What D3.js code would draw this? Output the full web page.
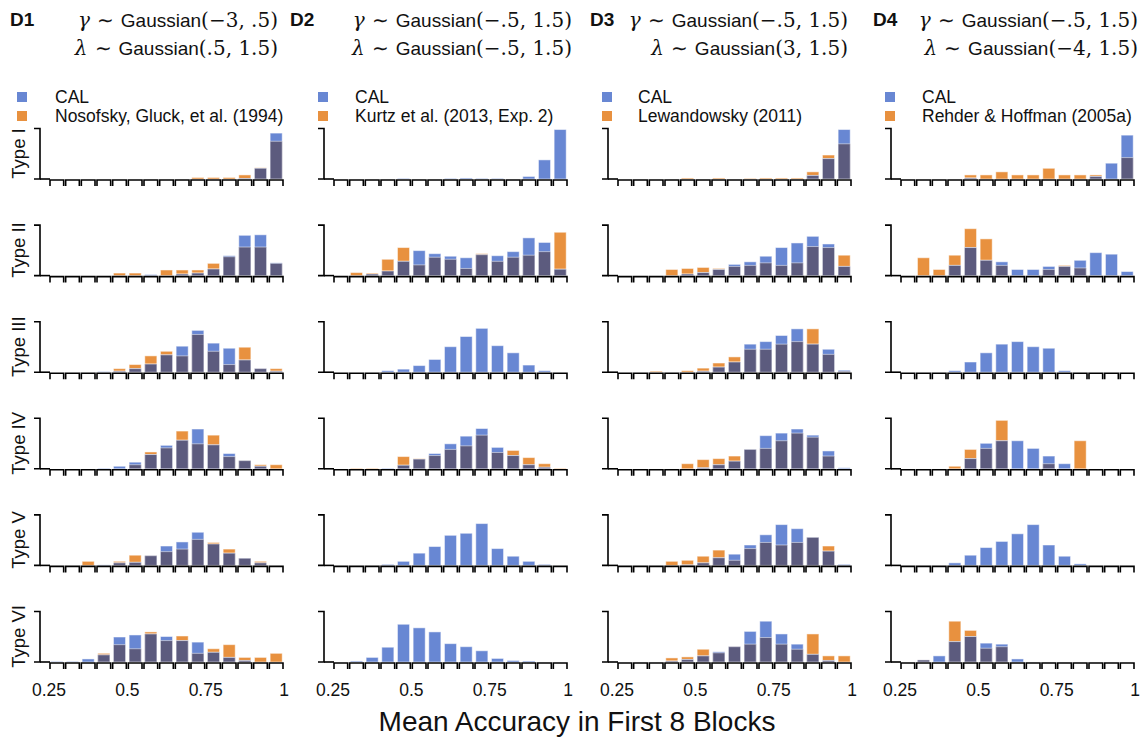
<!DOCTYPE html>
<html>
<head>
<meta charset="utf-8">
<script src="https://cdn.jsdelivr.net/npm/d3@7"></script>
<style>
  body { margin: 0; background: #fff; }
  text { font-family: "Liberation Sans", Arial, sans-serif; fill: #111; }
</style>
</head>
<body>
<script>
// bins of mean accuracy, 0.25 .. 1 in steps of .05
var binEdges = d3.range(16).map(function(i) { return +(0.25 + i * 0.05).toFixed(2); });
var xTicks = [0.25, 0.5, 0.75, 1];
var xTickLabels = ["0.25", "0.5", "0.75", "1"];
var typeLabels = ["Type I", "Type II", "Type III", "Type IV", "Type V", "Type VI"];
var datasetIds = ["D1", "D2", "D3", "D4"];
var gammaPriors = ["(\u22123, .5)", "(\u2212.5, 1.5)", "(\u2212.5, 1.5)", "(\u2212.5, 1.5)"];
var lambdaPriors = ["(.5, 1.5)", "(\u2212.5, 1.5)", "(3, 1.5)", "(\u22124, 1.5)"];
var studies = ["Nosofsky, Gluck, et al. (1994)", "Kurtz et al. (2013, Exp. 2)",
               "Lewandowsky (2011)", "Rehder & Hoffman (2005a)"];

// relative frequency per bin (1 = top tick), one row per problem type
var cal_D1 = [
  [0,0,0,0,0,0,0,0,0,0,0,0,0.01,0.21,0.9],
  [0,0,0,0,0,0,0.02,0,0.03,0.05,0.13,0.39,0.79,0.8,0.25],
  [0,0,0,0.01,0.02,0.07,0.16,0.34,0.51,0.82,0.57,0.47,0.24,0.07,0.02],
  [0,0,0,0.01,0.05,0.13,0.28,0.46,0.56,0.78,0.47,0.3,0.16,0.05,0],
  [0,0,0,0.01,0.05,0.06,0.19,0.38,0.46,0.65,0.42,0.24,0.14,0.05,0],
  [0.01,0.01,0.06,0.14,0.49,0.53,0.55,0.5,0.42,0.39,0.19,0.09,0.03,0,0]
];
var hum_D1 = [
  [0,0,0,0,0,0,0,0,0,0.03,0.03,0.03,0.08,0.22,0.74],
  [0,0,0,0,0.05,0.05,0,0.11,0.11,0.11,0.24,0.37,0.56,0.56,0.24],
  [0,0,0,0,0.07,0.15,0.32,0.41,0.32,0.74,0.41,0.15,0.49,0.07,0.07],
  [0,0,0,0,0,0.08,0.33,0.41,0.74,0.49,0.66,0.24,0.16,0.08,0.08],
  [0,0,0.08,0,0.08,0.2,0.19,0.27,0.32,0.51,0.45,0.32,0.14,0.08,0],
  [0,0,0,0.17,0.34,0.26,0.59,0.42,0.51,0.17,0.26,0.34,0.09,0.09,0.17]
];
var cal_D2 = [
  [0,0,0,0,0.01,0,0,0.01,0.02,0.01,0.01,0,0.05,0.375,0.97],
  [0,0,0.03,0.09,0.28,0.49,0.43,0.38,0.35,0.41,0.39,0.47,0.74,0.65,0.125],
  [0,0,0,0.03,0.06,0.13,0.25,0.5,0.7,0.86,0.52,0.38,0.14,0.03,0],
  [0,0,0,0.01,0.07,0.19,0.3,0.49,0.64,0.79,0.42,0.26,0.08,0.03,0],
  [0,0,0,0.02,0.08,0.24,0.37,0.59,0.63,0.82,0.33,0.18,0.08,0.02,0],
  [0,0.02,0.09,0.29,0.74,0.67,0.59,0.36,0.3,0.22,0.07,0.03,0.02,0,0]
];
var hum_D2 = [
  [],
  [0,0.06,0.05,0.32,0.55,0.21,0.36,0.32,0.14,0.43,0.28,0.36,0.4,0.47,0.85],
  [],
  [0,0.01,0.01,0,0.24,0.2,0.26,0.38,0.45,0.66,0.32,0.36,0.22,0.1,0.01],
  [],
  []
];
var cal_D3 = [
  [0,0,0,0,0,0,0,0,0,0,0,0,0.07,0.4,0.97],
  [0,0,0,0,0.03,0.06,0.12,0.22,0.27,0.38,0.55,0.64,0.77,0.62,0.18],
  [0,0,0,0,0,0.02,0.1,0.2,0.55,0.6,0.72,0.85,0.55,0.45,0.04],
  [0,0,0,0,0,0.02,0.08,0.15,0.38,0.65,0.7,0.78,0.66,0.35,0.02],
  [0,0,0,0,0.01,0.05,0.15,0.22,0.4,0.6,0.8,0.72,0.55,0.28,0.02],
  [0,0,0,0.02,0.05,0.12,0.2,0.3,0.6,0.8,0.55,0.35,0.15,0.03,0]
];
var hum_D3 = [
  [0,0,0,0,0.02,0,0.02,0,0.01,0.02,0.02,0.02,0.14,0.47,0.69],
  [0,0,0,0.12,0.14,0.16,0.14,0.18,0.2,0.25,0.2,0.25,0.57,0.55,0.4],
  [0,0,0.02,0,0.03,0.08,0.18,0.3,0.45,0.45,0.55,0.6,0.85,0.35,0.02],
  [0,0,0,0,0.1,0.18,0.2,0.25,0.38,0.4,0.55,0.7,0.62,0.25,0],
  [0,0,0,0.08,0.1,0.18,0.3,0.1,0.33,0.45,0.4,0.45,0.55,0.38,0],
  [0,0,0,0.08,0.1,0.25,0.18,0.3,0.35,0.48,0.35,0.25,0.55,0.12,0.12]
];
var cal_D4 = [
  [0,0,0,0,0.02,0,0,0,0,0,0,0,0.05,0.31,0.86],
  [0,0,0,0.2,0.55,0.3,0.27,0.12,0.12,0.18,0.18,0.3,0.45,0.42,0.08],
  [0,0,0,0.03,0.2,0.38,0.55,0.6,0.5,0.47,0.03,0,0,0,0],
  [0,0,0,0,0.2,0.5,0.55,0.55,0.4,0.25,0.1,0,0,0,0],
  [0,0,0,0.05,0.2,0.35,0.47,0.62,0.8,0.4,0.18,0.03,0,0,0],
  [0,0.04,0.12,0.4,0.5,0.37,0.35,0.06,0,0,0,0,0,0,0]
];
var hum_D4 = [
  [0,0,0,0,0.08,0.08,0.14,0.08,0.08,0.21,0.08,0.08,0.08,0,0.42],
  [0,0.35,0.12,0.4,0.92,0.72,0.2,0,0,0.12,0.2,0.15,0,0,0],
  [],
  [0,0,0,0.05,0.38,0.4,0.95,0,0,0.1,0,0.55,0,0,0],
  [],
  [0,0.04,0,0.8,0.62,0.27,0.3,0,0,0,0,0,0,0,0]
];

var calAll = [cal_D1, cal_D2, cal_D3, cal_D4];
var humAll = [hum_D1, hum_D2, hum_D3, hum_D4];

var BLUE = "#6887d3", ORANGE = "#e8913f", BOTH = "#5c5b7e";

var width = 1147, height = 740;
var colX = [40, 324, 608, 891];          // y spine of each column
var idX = [10, 290, 590, 873];           // "D1".. labels
var headRight = [278, 572, 848, 1138];   // right end of the prior lines
var legSwatchX = [17, 318, 602, 885];
var legTextX = [55, 355, 638, 922];
var rowBase0 = 179, rowStep = 96.6, panelH = 51;

var svg = d3.select("body").append("svg")
    .attr("width", width)
    .attr("height", height);

var x = d3.scaleLinear().domain([0.25, 1]).range([9, 244]);
var y = d3.scaleLinear().domain([0, 1]).range([panelH, 0]);

function bins(vals) {
  return vals.map(function(v, i) { return { lo: binEdges[i], hi: binEdges[i + 1], v: v }; });
}

datasetIds.forEach(function(id, c) {
  // header
  svg.append("text")
      .attr("x", idX[c]).attr("y", 26)
      .style("font-weight", "bold").style("font-size", "19px")
      .text(id);
  [["\u03b3", gammaPriors[c], 27], ["\u03bb", lambdaPriors[c], 55]].forEach(function(l) {
    var t = svg.append("text")
        .attr("x", headRight[c]).attr("y", l[2])
        .attr("text-anchor", "end")
        .style("font-size", "19px");
    t.append("tspan").style("font-family", "DejaVu Serif").style("font-size", "20px")
        .style("font-style", "italic").text(l[0]);
    t.append("tspan").attr("dx", 7).style("font-size", "20px").text("\u223c");
    t.append("tspan").attr("dx", 7).text("Gaussian");
    t.append("tspan").style("font-family", "DejaVu Serif").style("font-size", "20px")
        .text(l[1]);
  });

  // legend
  [["CAL", BLUE, 97], [studies[c], ORANGE, 116]].forEach(function(l) {
    svg.append("rect").attr("x", legSwatchX[c]).attr("y", l[2] - 5)
        .attr("width", 10).attr("height", 10)
        .attr("fill", l[1]);
    svg.append("text").attr("x", legTextX[c]).attr("y", l[2] + 6)
        .style("font-size", "17.5px").text(l[0]);
  });

  var col = svg.append("g").attr("transform", "translate(" + colX[c] + ",0)");

  typeLabels.forEach(function(lab, r) {
    var base = rowBase0 + r * rowStep;
    var g = col.append("g").attr("transform", "translate(0," + (base - panelH) + ")");

    var cal = bins(calAll[c][r]);
    var hum = bins(humAll[c][r]);
    var both = hum.length ? cal.map(function(d, i) {
      return { lo: d.lo, hi: d.hi, v: Math.min(d.v, hum[i].v) };
    }) : [];

    [[hum, ORANGE], [cal, BLUE], [both, BOTH]].forEach(function(s) {
      g.selectAll(null)
          .data(s[0].filter(function(d) { return d.v > 0; }))
        .enter().append("rect")
          .attr("x", function(d) { return x(d.lo) + 1.8; })
          .attr("width", function(d) { return x(d.hi) - x(d.lo) - 3.6; })
          .attr("y", function(d) { return y(d.v); })
          .attr("height", function(d) { return y(0) - y(d.v); })
          .attr("fill", s[1])
          .attr("stroke", "#fff").attr("stroke-opacity", 0.5).attr("stroke-width", 1);
    });

    // y spine with end ticks
    g.append("path")
        .attr("d", "M-6,0.5H0V" + panelH + "H-6")
        .attr("fill", "none").attr("stroke", "#000").attr("stroke-width", 1.6);

    // x axis: one bracket per bin
    g.append("path")
        .attr("d", "M0," + panelH + "H" + (x(0.25) + 1))
        .attr("fill", "none").attr("stroke", "#000").attr("stroke-width", 1.6);
    g.selectAll(null)
        .data(cal)
      .enter().append("path")
        .attr("d", function(d) {
          var a = x(d.lo) + 1, b = x(d.hi) - 1;
          return "M" + a + "," + (panelH + 7) + "V" + (panelH + 1) + "H" + b + "V" + (panelH + 7);
        })
        .attr("fill", "none").attr("stroke", "#000").attr("stroke-width", 1.6);

    if (c === 0) {
      g.append("text")
          .attr("transform", "translate(-15," + (panelH / 2) + ")rotate(-90)")
          .attr("text-anchor", "middle")
          .style("font-size", "18.5px")
          .text(lab);
    }

    if (r === typeLabels.length - 1) {
      g.selectAll(null)
          .data(xTicks)
        .enter().append("text")
          .attr("x", function(d) { return x(d); })
          .attr("y", panelH + 34)
          .attr("text-anchor", "middle")
          .style("font-size", "17.5px")
          .text(function(d, i) { return xTickLabels[i]; });
    }
  });
});

svg.append("text")
    .attr("x", 577).attr("y", 731)
    .attr("text-anchor", "middle")
    .style("font-size", "28px")
    .text("Mean Accuracy in First 8 Blocks");
</script>
</body>
</html>
